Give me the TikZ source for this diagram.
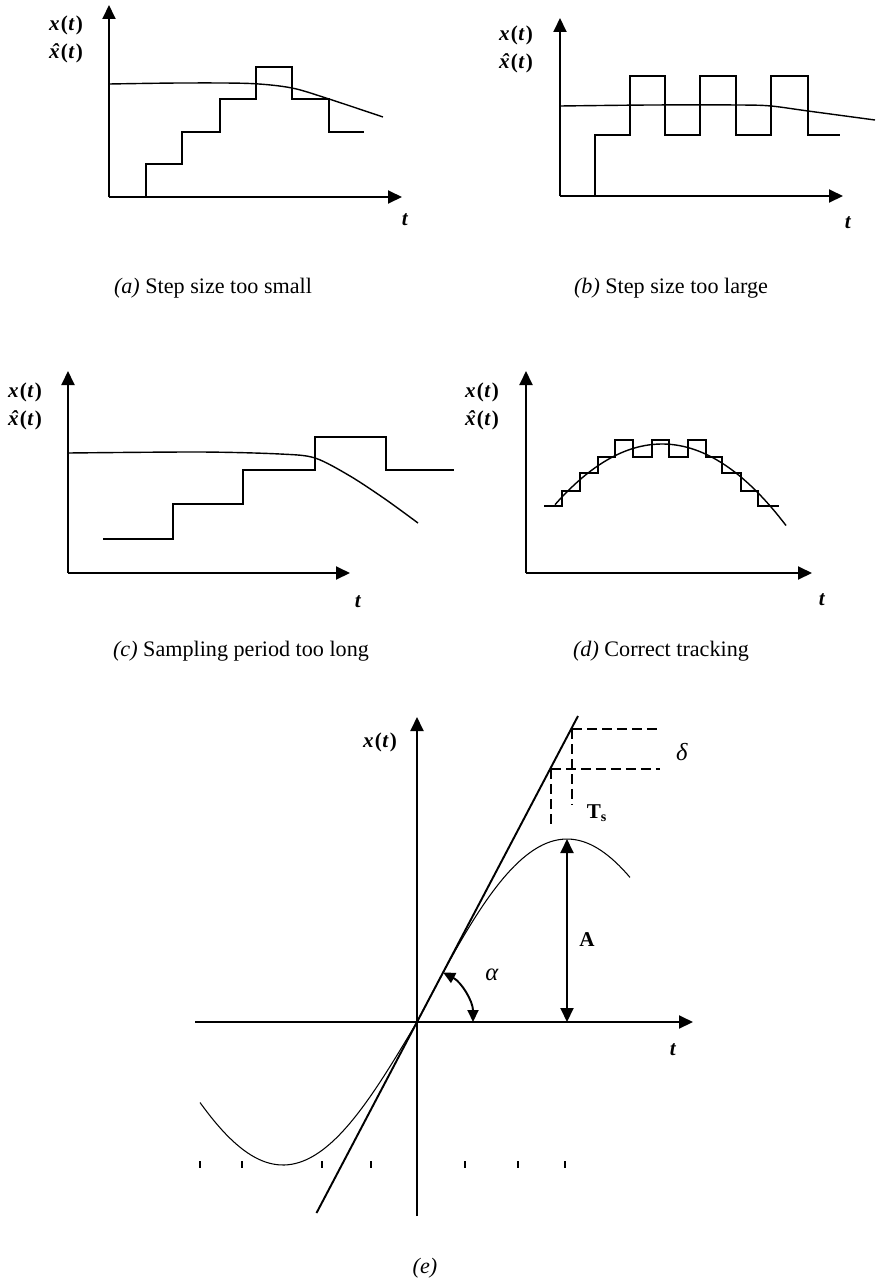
\documentclass[tikz,border=0pt]{standalone}
\usepackage{fontspec}
\setmainfont{Liberation Serif}
\usetikzlibrary{arrows.meta}
\newcommand{\xsig}{\textbf{\textit{x}\kern0.6pt(\kern0.3pt\textit{t}\kern0.6pt)}}
\newcommand{\xhat}{\textbf{\ooalign{\textit{x}\cr\hidewidth\kern1.2pt\textit{\char"02C6}\hidewidth\cr}\kern0.6pt(\kern0.3pt\textit{t}\kern0.6pt)}}
\newcommand{\tvar}{\textbf{\textit{t}}}

\begin{document}
\begin{tikzpicture}[x=0.02cm, y=-0.02cm,
  axis/.style={line width=1.1pt, -{Triangle[length=0.28cm, width=0.26cm]}},
  stair/.style={line width=1.1pt},
  signal/.style={line width=0.8pt},
  lbl/.style={font=\fontsize{12}{14}\selectfont},
  capt/.style={font=\fontsize{12.6}{15}\selectfont},
  guide/.style={line width=1pt, dash pattern=on 0.2cm off 0.1cm}]
\useasboundingbox (0,0) rectangle (882,1285);

% (a) step size too small
\coordinate (oa) at (109,197);
\draw[axis] (oa) -- (109,5);
\draw[axis] (oa) -- (402,197);
\draw[stair] (oa) -| (146,164) -| (182,132) -| (220,99) -| (256,67)
  -| (292,99) -| (329,132) -- (364,132);
\draw[signal] plot[smooth] coordinates {(109,84) (180,83) (250,83.5) (292,88) (329,99) (383,117)};
\node[lbl] (xa) at (66,25) {\xsig};
\node[lbl] (xha) at (66,53) {\xhat};
\node[lbl] (ta) at (405,220) {\tvar};
\node[capt] (capa) at (213,288) {\textit{(a)} Step size too small};

% (b) step size too large
\coordinate (ob) at (560,196);
\draw[axis] (ob) -- (560,18);
\draw[axis] (ob) -- (843,196);
\draw[stair] (ob) -| (595,135) -| (630,76) -| (665,135) -| (700,76)
  -| (736,135) -| (771,76) -| (808,135) -- (840,135);
\draw[signal] plot[smooth] coordinates {(560,106) (650,105) (740,105) (771,106) (808,111) (875,120)};
\node[lbl] (xb) at (516,35) {\xsig};
\node[lbl] (xhb) at (516,63) {\xhat};
\node[lbl] (tb) at (848,223) {\tvar};
\node[capt] (capb) at (671,288) {\textit{(b)} Step size too large};

% (c) sampling period too long
\coordinate (oc) at (68,573);
\draw[axis] (oc) -- (68,371);
\draw[axis] (oc) -- (350,573);
\draw[stair] (103,539) -| (173,504) -| (243,470) -| (315,437) -| (386,470) -- (454,470);
\draw[signal] plot[smooth] coordinates {(68,453) (200,452) (280,454) (315,458) (350,476) (385,499) (418,523)};
\node[lbl] (xc) at (25,392) {\xsig};
\node[lbl] (xhc) at (25,420) {\xhat};
\node[lbl] (tc) at (358,602) {\tvar};
\node[capt] (capc) at (241,651) {\textit{(c)} Sampling period too long};

% (d) correct tracking
\coordinate (od) at (526,573);
\draw[axis] (od) -- (526,371);
\draw[axis] (od) -- (812,573);
\draw[stair] (544,506) -| (562,491) -| (580,473) -| (598,457) -| (615,440)
  -| (633,457) -| (652,440) -| (669,457) -| (688,440) -| (706,457)
  -| (722,473) -| (741,491) -| (758,506) -- (779,506);
\draw[signal] plot[domain=555:786, samples=60] (\x, {444+0.53*((\x-662)/10)^2});
\node[lbl] (xd) at (482,392) {\xsig};
\node[lbl] (xhd) at (482,420) {\xhat};
\node[lbl] (td) at (822,600) {\tvar};
\node[capt] (capd) at (661,651) {\textit{(d)} Correct tracking};

% (e) slope overload
\coordinate (oe) at (417,1022);
\draw[axis] (417,1216) -- (417,717);
\draw[axis] (195,1022) -- (693,1022);
\draw[line width=1.1pt] (316.5,1213) -- (578,716);
\draw[line width=0.6pt] plot[domain=200:417, samples=60] (\x, {1022-143*sin((\x-417)*0.6716)});
\draw[line width=0.6pt] plot[domain=417:630, samples=60] (\x, {1022-183*sin((\x-417)*0.6)});
\draw[guide] (572,729) -- (660,729);
\draw[guide] (572,729) -- (572,805);
\draw[guide] (551,769) -- (660,769);
\draw[guide] (551,769) -- (551,825);
\draw[line width=1.1pt, {Triangle[length=0.28cm, width=0.26cm]}-{Triangle[length=0.28cm, width=0.26cm]}]
  (567,1022) -- (567,839);
\draw[line width=1.1pt, {Triangle[length=0.24cm, width=0.22cm]}-{Triangle[length=0.24cm, width=0.22cm]}]
  (473,1022) arc[start angle=0, end angle=-62.25, radius=56];
\foreach \tx in {200,242,322,371,465,518,565}
  \draw[line width=0.6pt] (\tx,1161) -- (\tx,1168);
\node[lbl] (xe) at (380,742) {\xsig};
\node[lbl] (te) at (673,1050) {\tvar};
\node[lbl, font=\fontsize{14}{16}\selectfont] (dlt) at (682,752) {\textit{δ}};
\node[lbl] (ts) at (597,813) {\textbf{T\textsubscript{s}}};
\node[lbl] (amp) at (587,940) {\textbf{A}};
\node[lbl, font=\fontsize{14}{16}\selectfont] (alp) at (492,975) {\textit{α}};
\node[capt] (cape) at (425,1268) {\textit{(e)}};
\end{tikzpicture}
\end{document}
